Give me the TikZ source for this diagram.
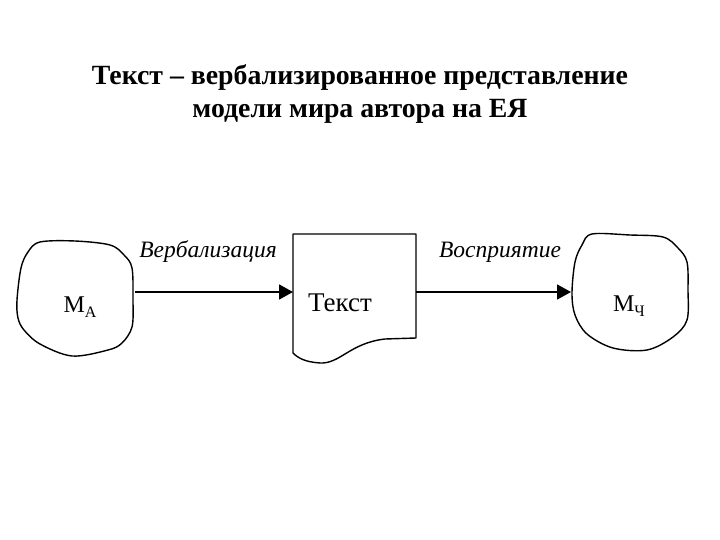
\documentclass[tikz,border=0pt]{standalone}
\usepackage{fontspec}
\setmainfont{Liberation Serif}
\usetikzlibrary{arrows.meta}
\tikzset{
  outline/.style={line width=1.4pt, line join=round},
  conn/.style={line width=1.8pt, -{Triangle[length=14pt,width=15pt]}},
  arrowlabel/.style={font=\fontsize{23.5}{23.5}\selectfont\itshape, anchor=base, inner sep=0pt},
  boxlabel/.style={anchor=base, inner sep=0pt},
  titlestyle/.style={font=\fontsize{27.8}{27.8}\selectfont\bfseries, anchor=base, inner sep=0pt}
}
\begin{document}
\begin{tikzpicture}[x=1pt,y=-1pt]
\useasboundingbox (0,0) rectangle (720,540);
% title
\node[titlestyle] (title1) at (360,85) {Текст – вербализированное представление};
\node[titlestyle] (title2) at (360,118) {модели мира автора на ЕЯ};
% left cloud
\draw[outline] plot[smooth cycle, tension=0.55] coordinates {
  (40,242) (75,241) (110,245) (124,255) (132,268) (133,300) (132,327)
  (122,343) (108,350) (72,356) (40,344) (24,330) (18,318) (17,300) (21,268) (28,252)};
\node[boxlabel, font=\fontsize{24}{24}\selectfont] (ma) at (80,312)
  {М\raisebox{-5pt}{\fontsize{16}{16}\selectfont А}};
\coordinate (maout) at (135,292);
% right cloud
\draw[outline] plot[smooth cycle, tension=0.55] coordinates {
  (592,234) (630,235) (663,237) (678,248) (687,262) (688,290) (687,320)
  (673,337) (647,350) (613,348) (587,334) (575,315) (572,293) (575,262) (582,245)};
\node[boxlabel, font=\fontsize{24}{24}\selectfont] (mch) at (629,311)
  {М\raisebox{-5pt}{\fontsize{16}{16}\selectfont Ч}};
\coordinate (mchin) at (571,292);
% document shape
\draw[outline] (293,234) -- (416,234) -- (416,338) -- (385,339)
  .. controls (350,343) and (340,364) .. (320,363)
  .. controls (305,362) and (298,358) .. (293,353) -- cycle;
\node[boxlabel, font=\fontsize{27}{27}\selectfont] (txt) at (340,311) {Текст};
\coordinate (txtin) at (293,292);
\coordinate (txtout) at (416,292);
% connectors
\draw[conn] (maout) -- (txtin);
\draw[conn] (txtout) -- (mchin);
\node[arrowlabel] (verb) at (208,258) {Вербализация};
\node[arrowlabel] (vosp) at (500,258) {Восприятие};
\end{tikzpicture}
\end{document}
